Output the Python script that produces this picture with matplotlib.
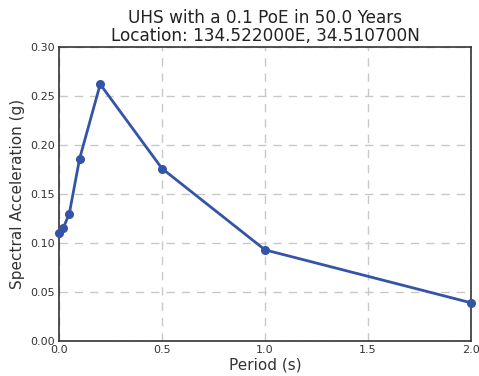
import matplotlib as mpl
mpl.use('Agg')
import matplotlib.pyplot as plt

# Uniform hazard spectrum values
periods = [0.0, 0.02, 0.05, 0.1, 0.2, 0.5, 1.0, 2.0]
sa_values = [0.110, 0.115, 0.130, 0.186, 0.262, 0.176, 0.093, 0.039]

fig = plt.figure(figsize=(4.79, 3.76), dpi=100)
ax = fig.add_axes([59 / 479, 35 / 376, 412 / 479, 294 / 376])

ax.plot(periods, sa_values, '-o', color='#3454a8', lw=2, ms=5.5, clip_on=False, zorder=3)

ax.set_xlim(0, 2.0)
ax.set_ylim(0, 0.30)
ax.set_xticks([0.0, 0.5, 1.0, 1.5, 2.0])
ax.set_yticks([0.0, 0.05, 0.10, 0.15, 0.20, 0.25, 0.30])
ax.set_xticklabels(['0.0', '0.5', '1.0', '1.5', '2.0'])
ax.set_yticklabels(['0.00', '0.05', '0.10', '0.15', '0.20', '0.25', '0.30'])
ax.tick_params(length=0, labelsize=8, colors='#333333', pad=3)
ax.grid(True, ls=(0, (6, 5)), color='#c8c8c8', lw=1)
for s in ax.spines.values():
    s.set_color('#333333')
    s.set_linewidth(1.2)

ax.set_xlabel('Period (s)', fontsize=11, color='#333333', labelpad=2)
ax.set_ylabel('Spectral Acceleration (g)', fontsize=11, color='#333333', labelpad=4)
ax.set_title('UHS with a 0.1 PoE in 50.0 Years\nLocation: 134.522000E, 34.510700N',
             fontsize=12.2, color='#222222', pad=4, linespacing=1.05)

plt.savefig('out.png', dpi=100)
